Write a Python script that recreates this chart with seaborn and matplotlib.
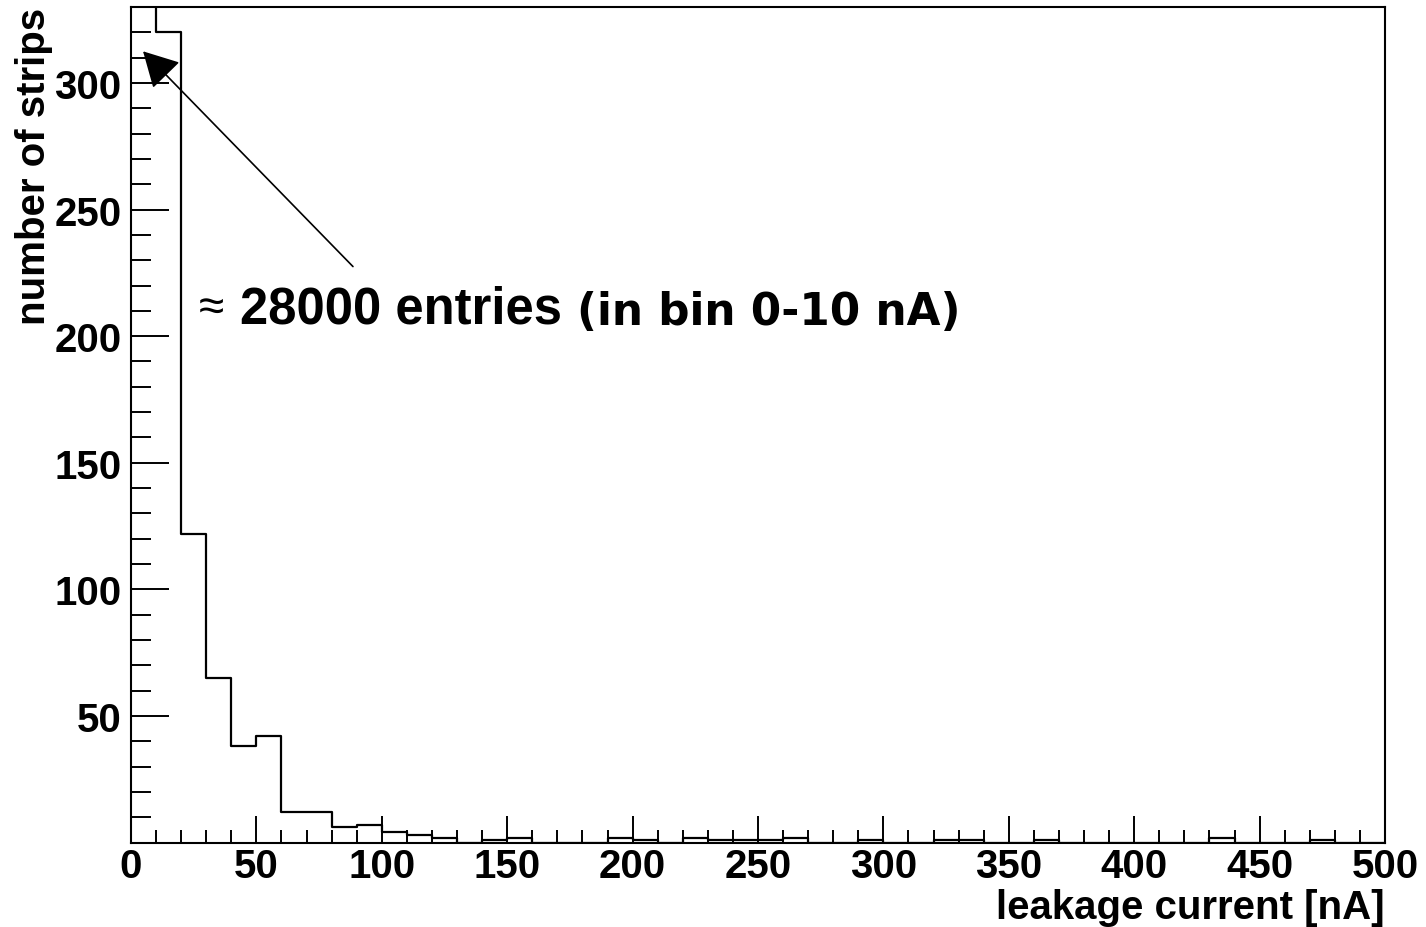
import numpy as np
import pandas as pd
import matplotlib
matplotlib.use("Agg")
import matplotlib.pyplot as plt
from matplotlib.ticker import MultipleLocator, FixedLocator
import seaborn as sns

# ---- data ----
bin_width = 10
x_min, x_max = 0, 500
counts = [28000, 320, 122, 65, 38, 42, 12, 12, 6, 7,
          4, 3, 2, 0, 1, 2, 0, 0, 0, 2,
          1, 0, 2, 1, 1, 1, 2, 0, 0, 1,
          0, 0, 1, 1, 0, 0, 1, 0, 0, 0,
          0, 0, 0, 2, 0, 0, 0, 1, 0, 0]
y_max = 330
x_major = list(range(0, 501, 50))
y_major = [50, 100, 150, 200, 250, 300]
x_label = "leakage current [nA]"
y_label = "number of strips"
note_main = "28000 entries"
note_extra = "(in bin 0-10 nA)"

edges = [float(e) for e in np.arange(x_min, x_max + bin_width, bin_width)]
df = pd.DataFrame({"current": np.array(edges[:-1]) + bin_width / 2,
                   "count": np.array(counts, dtype=float)})

sns.set_theme(style="white")
plt.rcParams["font.family"] = ["Liberation Sans", "DejaVu Sans"]
plt.rcParams["font.weight"] = "bold"
plt.rcParams["text.color"] = "black"
plt.rcParams["axes.labelcolor"] = "black"
plt.rcParams["xtick.color"] = "black"
plt.rcParams["ytick.color"] = "black"

fig = plt.figure(figsize=(14.26, 9.28), dpi=100)
ax = fig.add_axes([131 / 1426, 1 - 843.6 / 928, (1385 - 131) / 1426, (843.6 - 8) / 928])

sns.histplot(data=df, x="current", weights="count", bins=edges, element="step",
             fill=False, color="black", linewidth=1.6, ax=ax)

ax.set_xlim(x_min, x_max)
ax.set_ylim(0, y_max)

ax.xaxis.set_major_locator(FixedLocator(x_major))
ax.xaxis.set_minor_locator(MultipleLocator(10))
ax.yaxis.set_major_locator(FixedLocator(y_major))
ax.yaxis.set_minor_locator(MultipleLocator(10))
ax.set_xticklabels([str(v) for v in x_major], fontsize=29, fontweight="bold", color="black")
ax.set_yticklabels([str(v) for v in y_major], fontsize=29, fontweight="bold", color="black")

ax.tick_params(axis="x", which="major", direction="in", length=19.5, width=1.4,
               pad=3, colors="black", bottom=True, top=False)
ax.tick_params(axis="x", which="minor", direction="in", length=9.5, width=1.4,
               bottom=True, top=False, colors="black")
ax.tick_params(axis="y", which="major", direction="in", length=27.5, width=1.4,
               pad=7, colors="black", left=True, right=False)
ax.tick_params(axis="y", which="minor", direction="in", length=14.5, width=1.4,
               left=True, right=False, colors="black")

for s in ax.spines.values():
    s.set_color("black")
    s.set_linewidth(1.5)

ax.set_xlabel(x_label, fontsize=29, fontweight="bold", loc="right", labelpad=2,
              color="black")
ax.set_ylabel(y_label, fontsize=29, fontweight="bold", loc="top", labelpad=1,
              color="black")

# annotation arrow
ax.annotate("", xy=(4.8, 312.5), xytext=(88.5, 227.5),
            arrowprops=dict(arrowstyle="-|>,head_length=1.1,head_width=0.6",
                            mutation_scale=20, color="black", lw=1.2,
                            shrinkA=0, shrinkB=0))

ax.text(27.0, 206.5, "\u2248", fontsize=33, fontweight="normal",
        family=["Liberation Sans", "DejaVu Sans"], va="baseline", ha="left",
        color="black")
ax.text(43.5, 205.5, note_main, fontsize=36.5, fontweight="bold",
        family=["Liberation Sans"], va="baseline", ha="left", color="black")
ax.text(178.0, 205.0, note_extra, fontsize=31.5, fontweight="bold",
        family=["DejaVu Sans"], va="baseline", ha="left", color="black")

fig.savefig("out.png", dpi=100, facecolor="white")
